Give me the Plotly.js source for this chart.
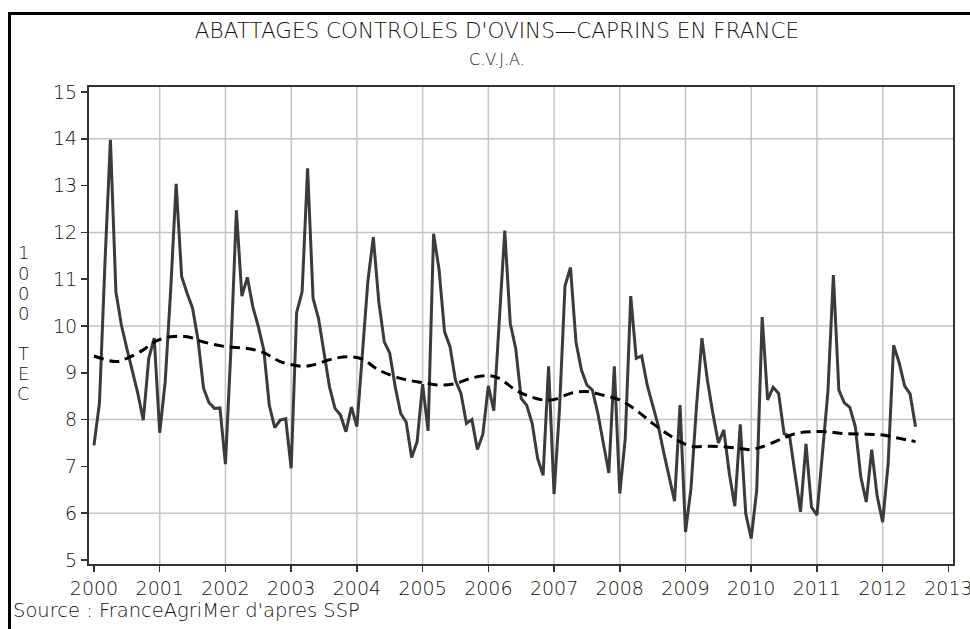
<!DOCTYPE html>
<html>
<head>
<meta charset="utf-8">
<script src="https://cdn.plot.ly/plotly-3.0.1.min.js"></script>
<style>
  html, body { margin: 0; padding: 0; background: #fff; }
  #wrap { position: relative; width: 970px; height: 629px; overflow: hidden; }
  #frame { position: absolute; left: 8px; top: 12px; width: 1000px; height: 700px;
           border-left: 3px solid #000; border-top: 3px solid #000; }
  #chart { position: absolute; left: 0; top: 0; width: 970px; height: 629px; }
</style>
</head>
<body>
<div id="wrap">
  <div id="frame"></div>
  <div id="chart"></div>
</div>
<script>
// ---- Data (1000 TEC), monthly, starting January 2000 ----
const startYear = 2000;
const monthly = [
  // 2000
  7.45, 8.36, 11.34, 13.98, 10.73, 10.02, 9.52, 9.06, 8.56, 7.99, 9.31, 9.74,
  // 2001
  7.72, 8.81, 10.77, 13.04, 11.06, 10.70, 10.38, 9.70, 8.67, 8.36, 8.24, 8.25,
  // 2002
  7.05, 9.50, 12.47, 10.64, 11.04, 10.41, 9.99, 9.49, 8.31, 7.83, 7.99, 8.02,
  // 2003
  6.96, 10.29, 10.73, 13.37, 10.59, 10.16, 9.45, 8.70, 8.24, 8.10, 7.74, 8.27,
  // 2004
  7.85, 9.42, 10.95, 11.90, 10.52, 9.66, 9.42, 8.70, 8.13, 7.95, 7.19, 7.53,
  // 2005
  8.76, 7.76, 11.97, 11.21, 9.88, 9.56, 8.84, 8.56, 7.92, 8.00, 7.36, 7.69,
  // 2006
  8.72, 8.19, 10.02, 12.04, 10.06, 9.52, 8.45, 8.31, 7.92, 7.17, 6.81, 9.14,
  // 2007
  6.41, 8.24, 10.86, 11.25, 9.66, 9.06, 8.74, 8.63, 8.13, 7.49, 6.86, 9.14,
  // 2008
  6.42, 7.60, 10.64, 9.31, 9.36, 8.74, 8.31, 7.88, 7.31, 6.81, 6.26, 8.31,
  // 2009
  5.60, 6.53, 8.27, 9.74, 8.84, 8.13, 7.50, 7.78, 6.85, 6.15, 7.90, 5.99,
  // 2010
  5.46, 6.49, 10.19, 8.42, 8.69, 8.56, 7.70, 7.65, 6.81, 6.03, 7.48, 6.13,
  // 2011
  5.96, 7.28, 8.60, 11.09, 8.63, 8.36, 8.26, 7.85, 6.78, 6.24, 7.36, 6.36,
  // 2012
  5.81, 7.06, 9.59, 9.22, 8.72, 8.55, 7.85
];

// Trend (dashed), read at these month indices (0 = Jan 2000)
const trendMonth = [0, 4, 6, 9, 11, 14, 17, 20, 24, 28, 31, 34, 38, 40, 44, 47, 49, 52, 56, 60,
  63, 66, 69, 72, 74, 77, 79, 82, 84, 87, 90, 93, 96, 99, 102, 105, 107, 109, 112, 115,
  118, 120, 122, 125, 128, 131, 134, 137, 141, 144, 147, 150];
const trendValue = [9.36, 9.24, 9.31, 9.49, 9.66, 9.77, 9.77, 9.66, 9.56, 9.52, 9.43, 9.24, 9.14, 9.17, 9.31, 9.34, 9.29, 9.06, 8.88, 8.79,
  8.74, 8.77, 8.89, 8.94, 8.88, 8.63, 8.52, 8.42, 8.43, 8.56, 8.60, 8.52, 8.42, 8.20, 7.92, 7.67, 7.53, 7.43, 7.43, 7.42,
  7.38, 7.36, 7.42, 7.56, 7.70, 7.74, 7.74, 7.70, 7.69, 7.67, 7.60, 7.53];

const yearTicks = [2000, 2001, 2002, 2003, 2004, 2005, 2006, 2007, 2008, 2009, 2010, 2011, 2012, 2013];
const yTicks = [5, 6, 7, 8, 9, 10, 11, 12, 13, 14, 15];
const yGrid = [6, 8, 10, 12, 14];
const xGrid = [2001, 2002, 2003, 2004, 2005, 2006, 2007, 2008, 2009, 2010, 2011, 2012];

const titleText = "ABATTAGES CONTROLES D'OVINS\u2014CAPRINS EN FRANCE";
const subtitleText = "C.V.J.A.";
const yLabel = "1000 TEC";
const sourceText = "Source : FranceAgriMer d'apres SSP";

// ---- Build ----
const W = 970, H = 629;
const M = { l: 89, r: 17, t: 87, b: 65 };
const PW = W - M.l - M.r, PH = H - M.t - M.b;
const px2x = px => (px - M.l) / PW;   // page pixel -> paper x
const px2y = py => (H - M.b - py) / PH; // page pixel -> paper y

const toYear = m => startYear + m / 12;
const xs = monthly.map((v, i) => toYear(i));
const txs = trendMonth.map(toYear);

const FONT = "DejaVu Sans, Liberation Sans, sans-serif";
const TXT = "#111";
const axisCol = "#333";
const gridCol = "#c4c4c4";

const shapes = [];
yGrid.forEach(v => shapes.push({ type: "line", xref: "paper", x0: 0, x1: 1, yref: "y", y0: v, y1: v,
  line: { color: gridCol, width: 1.5 }, layer: "below" }));
xGrid.forEach(v => shapes.push({ type: "line", yref: "paper", y0: 0, y1: 1, xref: "x", x0: v, x1: v,
  line: { color: gridCol, width: 1.5 }, layer: "below" }));

const traces = [
  { x: xs, y: monthly, type: "scatter", mode: "lines",
    line: { color: "#3b3b3b", width: 3 }, hoverinfo: "x+y" },
  { x: txs, y: trendValue, type: "scatter", mode: "lines",
    line: { color: "#000", width: 3, dash: "10px,6px", shape: "spline", smoothing: 1 }, hoverinfo: "x+y" }
];

const annotations = [
  { text: subtitleText, xref: "paper", yref: "paper", x: px2x(497), y: px2y(59), xanchor: "center", yanchor: "middle",
    showarrow: false, font: { family: FONT, size: 16, color: TXT, weight: 300 } },
  { text: sourceText, xref: "paper", yref: "paper", x: px2x(11), y: px2y(610), xanchor: "left", yanchor: "middle",
    showarrow: false, font: { family: FONT, size: 19.5, color: TXT, weight: 300 } }
];
// vertical stacked y-axis label, one character per line
yLabel.split("").forEach((c, k) => {
  if (c === " ") return;
  annotations.push({ text: c, xref: "paper", yref: "paper", x: px2x(23), y: px2y(253 + 20 * k),
    xanchor: "center", yanchor: "middle", showarrow: false,
    font: { family: FONT, size: 18, color: TXT, weight: 300 } });
});

const layout = {
  width: W, height: H,
  paper_bgcolor: "rgba(0,0,0,0)", plot_bgcolor: "rgba(0,0,0,0)",
  margin: M,
  showlegend: false,
  font: { family: FONT, color: TXT, size: 19, weight: 300 },
  title: { text: titleText, font: { family: FONT, size: 21.5, color: TXT, weight: 300 },
           x: px2x(497), xanchor: "center", xref: "paper", y: 1 - 30 / H, yref: "container", yanchor: "middle" },
  xaxis: {
    range: [1999.924, 2013.07], tickvals: yearTicks, ticktext: yearTicks.map(String),
    showgrid: false, zeroline: false, showline: true, mirror: true, linecolor: axisCol, linewidth: 2,
    ticks: "outside", ticklen: 6, tickwidth: 1.5, tickcolor: axisCol, ticklabeloverflow: "allow",
    tickfont: { family: FONT, size: 19, color: TXT, weight: 300 }
  },
  yaxis: {
    range: [4.915, 15.107], tickvals: yTicks, ticktext: yTicks.map(String),
    showgrid: false, zeroline: false, showline: true, mirror: true, linecolor: axisCol, linewidth: 2,
    ticks: "outside", ticklen: 6, tickwidth: 1.5, tickcolor: axisCol,
    tickfont: { family: FONT, size: 19, color: TXT, weight: 300 }
  },
  shapes: shapes,
  annotations: annotations
};

Plotly.newPlot("chart", traces, layout, { displayModeBar: false, staticPlot: true });
</script>
</body>
</html>
